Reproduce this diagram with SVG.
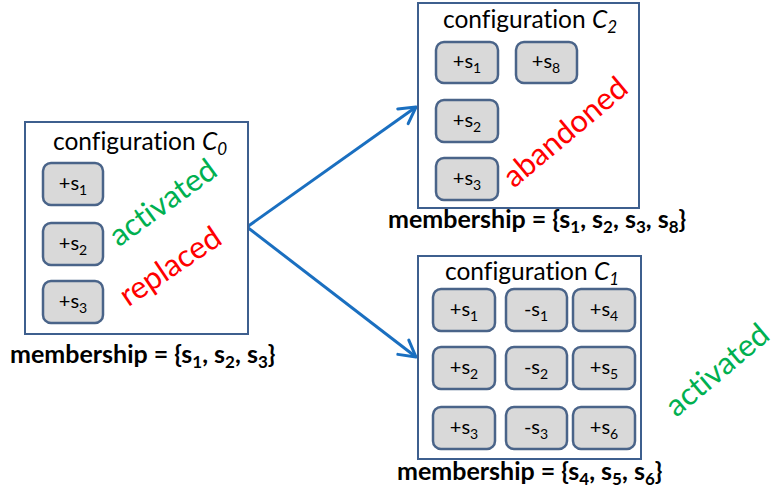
<svg xmlns="http://www.w3.org/2000/svg" width="776" height="495" viewBox="0 0 776 495">
<style>
text{font-family:Lato,"Liberation Sans",sans-serif;fill:#000;font-variant-ligatures:none}
.frame{fill:#fff;stroke:#3E5F8E;stroke-width:2}
.cell{fill:#d9d9d9;stroke:#4A6489;stroke-width:2.5}
.lbl{font-size:20px;text-anchor:middle}
.sub{font-size:14px}
.title{font-size:24.5px}
.it{font-style:italic}
.tsub{font-size:17px;font-style:italic}
.mem{font-size:25px;font-weight:bold}
.msub{font-size:17px}
.rot{font-size:31px;text-anchor:middle}
.green{fill:#00b050}
.red{fill:#ff0000}
.conn{fill:none;stroke:#1a6fc0;stroke-width:3;marker-end:url(#arr)}
</style>
<defs>
<marker id="arr" markerUnits="userSpaceOnUse" markerWidth="22" markerHeight="22" viewBox="0 0 22 22" refX="20" refY="11" orient="auto">
<path d="M4,2 L20,11 L4,20" fill="none" stroke="#1a6fc0" stroke-width="3" stroke-linecap="round" stroke-linejoin="round"/>
</marker>
</defs>

<g id="connectors">
<path class="conn" d="M247,227 L416,107"/>
<path class="conn" d="M247,227 L416,357"/>
</g>

<g id="C0">
<rect class="frame" x="25" y="122" width="223" height="212"/>
<text class="title" x="53" y="150">configuration <tspan class="it">C</tspan><tspan class="tsub" dy="5">0</tspan></text>
<rect class="cell" x="43" y="163" width="60" height="42" rx="8"/>
<text class="lbl" x="73" y="190">+s<tspan class="sub" dy="5">1</tspan></text>
<rect class="cell" x="43" y="223" width="60" height="42" rx="8"/>
<text class="lbl" x="73" y="250">+s<tspan class="sub" dy="5">2</tspan></text>
<rect class="cell" x="43" y="281" width="60" height="42" rx="8"/>
<text class="lbl" x="73" y="308">+s<tspan class="sub" dy="5">3</tspan></text>
<text class="rot green" transform="translate(169,211) rotate(-36)">activated</text>
<text class="rot red" transform="translate(176,275) rotate(-34)">replaced</text>
<text class="mem" x="10" y="363">membership = {s<tspan class="msub" dy="5">1</tspan><tspan dy="-5">, s</tspan><tspan class="msub" dy="5">2</tspan><tspan dy="-5">, s</tspan><tspan class="msub" dy="5">3</tspan><tspan dy="-5">}</tspan></text>
</g>

<g id="C2">
<rect class="frame" x="418" y="3" width="221" height="205"/>
<text class="title" x="443" y="28">configuration <tspan class="it">C</tspan><tspan class="tsub" dy="5">2</tspan></text>
<rect class="cell" x="436" y="42" width="62" height="41" rx="8"/>
<text class="lbl" x="467" y="68">+s<tspan class="sub" dy="5">1</tspan></text>
<rect class="cell" x="516" y="42" width="61" height="41" rx="8"/>
<text class="lbl" x="546" y="68">+s<tspan class="sub" dy="5">8</tspan></text>
<rect class="cell" x="436" y="100" width="62" height="42" rx="8"/>
<text class="lbl" x="467" y="127">+s<tspan class="sub" dy="5">2</tspan></text>
<rect class="cell" x="436" y="158" width="62" height="42" rx="8"/>
<text class="lbl" x="467" y="185">+s<tspan class="sub" dy="5">3</tspan></text>
<text class="rot red" transform="translate(572,140) rotate(-40)">abandoned</text>
<text class="mem" x="388" y="228">membership = {s<tspan class="msub" dy="5">1</tspan><tspan dy="-5">, s</tspan><tspan class="msub" dy="5">2</tspan><tspan dy="-5">, s</tspan><tspan class="msub" dy="5">3</tspan><tspan dy="-5">, s</tspan><tspan class="msub" dy="5">8</tspan><tspan dy="-5">}</tspan></text>
</g>

<g id="C1">
<rect class="frame" x="418" y="256" width="223" height="203"/>
<text class="title" x="445" y="280">configuration <tspan class="it">C</tspan><tspan class="tsub" dy="5">1</tspan></text>
<rect class="cell" x="433" y="289" width="62" height="42" rx="8"/>
<text class="lbl" x="464" y="316">+s<tspan class="sub" dy="5">1</tspan></text>
<rect class="cell" x="506" y="289" width="61" height="42" rx="8"/>
<text class="lbl" x="536" y="316">-s<tspan class="sub" dy="5">1</tspan></text>
<rect class="cell" x="573" y="289" width="62" height="42" rx="8"/>
<text class="lbl" x="604" y="316">+s<tspan class="sub" dy="5">4</tspan></text>
<rect class="cell" x="433" y="347" width="62" height="42" rx="8"/>
<text class="lbl" x="464" y="374">+s<tspan class="sub" dy="5">2</tspan></text>
<rect class="cell" x="506" y="347" width="61" height="42" rx="8"/>
<text class="lbl" x="536" y="374">-s<tspan class="sub" dy="5">2</tspan></text>
<rect class="cell" x="573" y="347" width="62" height="42" rx="8"/>
<text class="lbl" x="604" y="374">+s<tspan class="sub" dy="5">5</tspan></text>
<rect class="cell" x="433" y="407" width="62" height="42" rx="8"/>
<text class="lbl" x="464" y="434">+s<tspan class="sub" dy="5">3</tspan></text>
<rect class="cell" x="506" y="407" width="61" height="42" rx="8"/>
<text class="lbl" x="536" y="434">-s<tspan class="sub" dy="5">3</tspan></text>
<rect class="cell" x="573" y="407" width="62" height="42" rx="8"/>
<text class="lbl" x="604" y="434">+s<tspan class="sub" dy="5">6</tspan></text>
<text class="mem" x="397" y="480">membership = {s<tspan class="msub" dy="5">4</tspan><tspan dy="-5">, s</tspan><tspan class="msub" dy="5">5</tspan><tspan dy="-5">, s</tspan><tspan class="msub" dy="5">6</tspan><tspan dy="-5">}</tspan></text>
</g>

<g id="activated-C1">
<text class="rot green" transform="translate(724,378) rotate(-40)">activated</text>
</g>
</svg>
